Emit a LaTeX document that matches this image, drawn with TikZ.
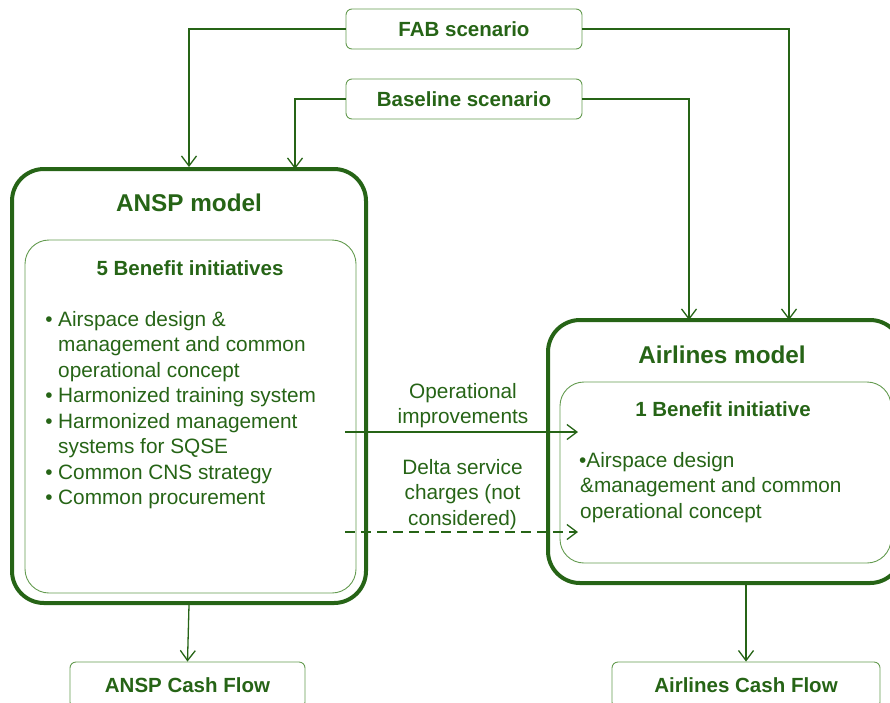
\documentclass[tikz,border=0pt]{standalone}
\usepackage{fontspec}
\setmainfont{Liberation Sans}
\usetikzlibrary{arrows.meta}
\definecolor{dkg}{RGB}{38,100,22}
\definecolor{ltg}{RGB}{100,155,80}
\begin{document}
\begin{tikzpicture}[x=1pt,y=-1pt,
  every node/.style={text=dkg},
  sbox/.style={draw=ltg, line width=0.9pt, rounded corners=6pt, inner sep=0pt,
    font=\bfseries\fontsize{20.5}{24}\selectfont},
  outerbox/.style={draw=dkg, line width=4pt, rounded corners=32pt, inner sep=0pt},
  innerbox/.style={draw=ltg, line width=0.9pt, rounded corners=24pt, inner sep=0pt},
  ttl/.style={anchor=base, inner sep=0pt, font=\bfseries\fontsize{24.3}{28}\selectfont},
  sttl/.style={anchor=base, inner sep=0pt, font=\bfseries\fontsize{20.5}{24}\selectfont},
  bt/.style={anchor=base west, inner sep=0pt, font=\fontsize{20.8}{25}\selectfont},
  bul/.style={anchor=base, inner sep=0pt, font=\fontsize{20.8}{25}\selectfont},
  lbl/.style={anchor=base, inner sep=0pt, font=\fontsize{20.8}{25}\selectfont},
  arr/.style={draw=dkg, line width=1.3pt, -{Straight Barb[length=10pt,width=15pt]}}
]
\useasboundingbox (0,0) rectangle (890,702);

% scenario boxes
\node[sbox, minimum width=236pt, minimum height=40pt] (fab) at (464,29) {FAB scenario};
\node[sbox, minimum width=236pt, minimum height=40pt] (base) at (464,99) {Baseline scenario};

% ANSP model
\node[outerbox, minimum width=354pt, minimum height=434pt] (ansp) at (189,386) {};
\node[innerbox, minimum width=331pt, minimum height=353pt] (anspin) at (190.5,416.5) {};
\node[ttl] (anspt) at (189,211) {ANSP model};
\node[sttl] (anspbt) at (190,275) {5 Benefit initiatives};

\node[bul] (b1) at (49,326) {•};
\node[bt] (l1) at (58,326) {Airspace design \&};
\node[bt] (l2) at (58,351.5) {management and common};
\node[bt] (l3) at (58,377) {operational concept};
\node[bul] (b2) at (49,402.5) {•};
\node[bt] (l4) at (58,402.5) {Harmonized training system};
\node[bul] (b3) at (49,428) {•};
\node[bt] (l5) at (58,428) {Harmonized management};
\node[bt] (l6) at (58,453.5) {systems for SQSE};
\node[bul] (b4) at (49,479) {•};
\node[bt] (l7) at (58,479) {Common CNS strategy};
\node[bul] (b5) at (49,504.5) {•};
\node[bt] (l8) at (58,504.5) {Common procurement};

% Airlines model
\node[outerbox, minimum width=354pt, minimum height=263pt] (air) at (725,451.5) {};
\node[innerbox, minimum width=331pt, minimum height=181pt] (airin) at (725.5,472.5) {};
\node[ttl] (airt) at (722,363) {Airlines model};
\node[sttl] (airbt) at (723,416) {1 Benefit initiative};
\node[bt] (m1) at (579,467.5) {•Airspace design};
\node[bt] (m2) at (580,492.5) {\&management and common};
\node[bt] (m3) at (580,518) {operational concept};

% cash flow boxes
\node[sbox, minimum width=235pt, minimum height=46pt] (anspcash) at (187.5,685) {ANSP Cash Flow};
\node[sbox, minimum width=268pt, minimum height=46pt] (aircash) at (746,685) {Airlines Cash Flow};

% connectors from scenarios
\coordinate (ab) at (295,169);
\coordinate (af) at (789,320);
\coordinate (ag) at (689,320);
\draw[arr] (fab.west) -| (ansp.north);
\draw[arr] (base.west) -| (ab);
\draw[arr] (fab.east) -| (af);
\draw[arr] (base.east) -| (ag);

% middle connectors
\coordinate (o1) at (345,432);
\coordinate (o2) at (578,432);
\coordinate (d1) at (345,532);
\coordinate (d2) at (578,532);
\draw[arr] (o1) -- (o2);
\draw[arr, dash pattern=on 10pt off 6pt] (d1) -- (d2);
\node[lbl] (op1) at (463,398) {Operational};
\node[lbl] (op2) at (463,423) {improvements};
\node[lbl] (dl1) at (462.5,474) {Delta service};
\node[lbl] (dl2) at (462.5,499.5) {charges (not};
\node[lbl] (dl3) at (462.5,525) {considered)};

% to cash flows
\draw[arr] (ansp.south) -- (anspcash.north);
\draw[arr] (air.south -| aircash.north) -- (aircash.north);
\end{tikzpicture}
\end{document}
